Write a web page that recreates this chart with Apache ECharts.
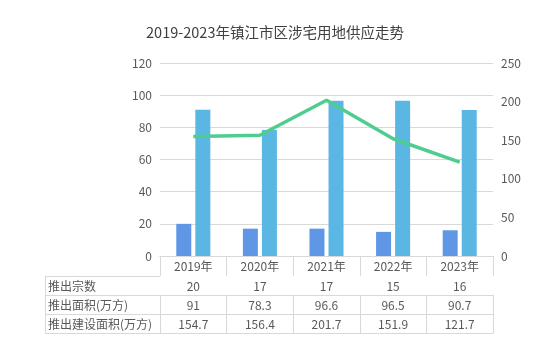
<!DOCTYPE html>
<html>
<head>
<meta charset="utf-8">
<script src="https://cdn.jsdelivr.net/npm/echarts@6/dist/echarts.min.js"></script>
<style>
html,body{margin:0;padding:0;background:#fff;}
#c{width:540px;height:362px;}
</style>
</head>
<body>
<div id="c"></div>
<script>
var categories = ['2019年', '2020年', '2021年', '2022年', '2023年'];
var countValues = [20, 17, 17, 15, 16];
var areaValues = [91, 78.3, 96.6, 96.5, 90.7];
var buildAreaValues = [154.7, 156.4, 201.7, 151.9, 121.7];
var rowNames = ['推出宗数', '推出面积(万方)', '推出建设面积(万方)'];
var leftTicks = {min: 0, max: 120, interval: 20};
var rightTicks = {min: 0, max: 250, interval: 50};
var titleText = '2019-2023年镇江市区涉宅用地供应走势';

var FONT = '"Microsoft YaHei","Noto Sans CJK SC","Noto Sans",sans-serif';
var GRID = {left: 160, right: 47, top: 63, bottom: 106};
var LINE_C = '#d9d9d9';
var TEXT_C = '#595959';
var rowOffsets = [20, 39, 58];
var bottomOffset = 77;
var labelColLeft = 45;

var chart = echarts.init(document.getElementById('c'), null, {renderer: 'canvas'});

function tableAxis(data, offset, showLabel) {
  return {
    type: 'category', gridIndex: 0, position: 'bottom', offset: offset,
    data: data.map(String),
    axisLine: {show: true, lineStyle: {color: LINE_C, width: 1}},
    axisTick: {show: showLabel, length: 19, lineStyle: {color: LINE_C}},
    axisLabel: {show: showLabel, margin: 4, color: TEXT_C, fontSize: 12, fontFamily: FONT, interval: 0},
    splitLine: {show: false}
  };
}

var gridBottomY = 362 - GRID.bottom;
var graphics = [];
var rowLines = [gridBottomY + rowOffsets[0], gridBottomY + rowOffsets[1], gridBottomY + rowOffsets[2], gridBottomY + bottomOffset];
rowLines.forEach(function (y) {
  graphics.push({type: 'line', shape: {x1: labelColLeft, y1: y + 0.5, x2: GRID.left, y2: y + 0.5}, style: {stroke: LINE_C, lineWidth: 1}, silent: true});
});
graphics.push({type: 'line', shape: {x1: labelColLeft + 0.5, y1: rowLines[0], x2: labelColLeft + 0.5, y2: rowLines[3]}, style: {stroke: LINE_C, lineWidth: 1}, silent: true});
rowNames.forEach(function (n, i) {
  graphics.push({type: 'text', x: labelColLeft + 3, y: (rowLines[i] + rowLines[i + 1]) / 2 + 0.5,
    style: {text: n, fill: TEXT_C, font: '12px ' + FONT, verticalAlign: 'middle', align: 'left'}, silent: true});
});
graphics.push({type: 'text', x: 275, y: 32,
  style: {text: titleText, fill: '#404040', font: '14.5px ' + FONT, align: 'center', verticalAlign: 'middle'}, silent: true});

chart.setOption({
  animation: false,
  backgroundColor: '#fff',
  grid: {left: GRID.left, right: GRID.right, top: GRID.top, bottom: GRID.bottom, containLabel: false},
  xAxis: [
    {
      type: 'category', data: categories, position: 'bottom', boundaryGap: true,
      axisLine: {show: true, lineStyle: {color: LINE_C}},
      axisTick: {show: true, length: 20, lineStyle: {color: LINE_C}},
      axisLabel: {margin: 4, color: TEXT_C, fontSize: 12, fontFamily: FONT, interval: 0}
    },
    tableAxis(countValues, rowOffsets[0], true),
    tableAxis(areaValues, rowOffsets[1], true),
    tableAxis(buildAreaValues, rowOffsets[2], true),
    tableAxis(categories.map(function () { return ''; }), bottomOffset, false)
  ],
  yAxis: [
    {
      type: 'value', min: leftTicks.min, max: leftTicks.max, interval: leftTicks.interval,
      axisLine: {show: false}, axisTick: {show: false},
      axisLabel: {color: TEXT_C, fontSize: 12, fontFamily: FONT, margin: 8},
      splitLine: {show: true, lineStyle: {color: LINE_C, width: 1}}
    },
    {
      type: 'value', position: 'right', min: rightTicks.min, max: rightTicks.max, interval: rightTicks.interval,
      axisLine: {show: false}, axisTick: {show: false},
      axisLabel: {color: TEXT_C, fontSize: 12, fontFamily: FONT, margin: 8},
      splitLine: {show: false}
    }
  ],
  series: [
    {name: rowNames[0], type: 'bar', data: countValues, xAxisIndex: 0, yAxisIndex: 0,
      barWidth: 15, barGap: '27%', itemStyle: {color: '#5f96e6'}},
    {name: rowNames[1], type: 'bar', data: areaValues, xAxisIndex: 0, yAxisIndex: 0,
      barWidth: 15, barGap: '27%', itemStyle: {color: '#5ab6e3'}},
    {name: rowNames[2], type: 'line', data: buildAreaValues, xAxisIndex: 0, yAxisIndex: 1,
      symbol: 'none', smooth: false, lineStyle: {color: '#4fcd91', width: 3.5}, z: 5}
  ],
  graphic: graphics
});
</script>
</body>
</html>
